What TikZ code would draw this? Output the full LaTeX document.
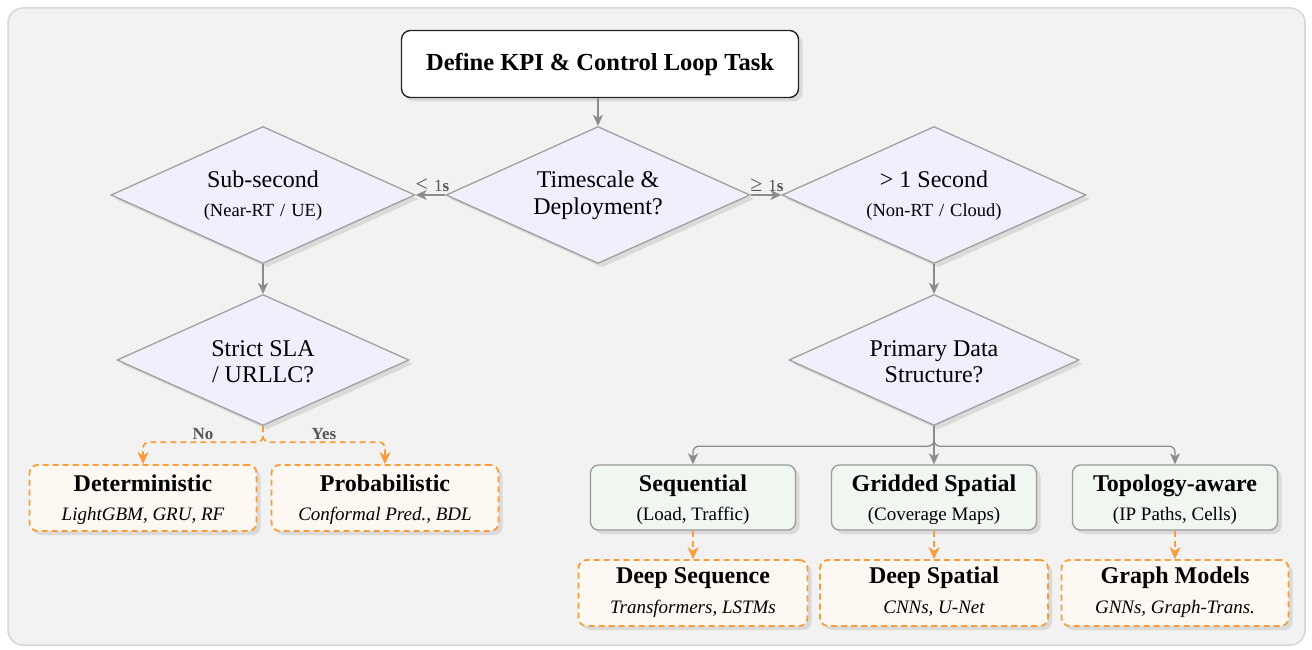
\documentclass[tikz,border=0pt]{standalone}
\usepackage{fontspec}
\setmainfont{Liberation Serif}
\usetikzlibrary{shapes.geometric,arrows.meta,shadows}
\definecolor{bgc}{HTML}{F2F2F2}
\definecolor{bgb}{HTML}{D6D6D6}
\definecolor{decfill}{HTML}{F0F0FC}
\definecolor{decdraw}{HTML}{A0A0A0}
\definecolor{grfill}{HTML}{F0F7F0}
\definecolor{grdraw}{HTML}{9A9A9A}
\definecolor{crfill}{HTML}{FDF8F1}
\definecolor{orng}{HTML}{F99D3A}
\definecolor{shad}{HTML}{DADADA}
\definecolor{edg}{HTML}{8C8C8C}
\definecolor{labc}{HTML}{555555}
\newcommand{\widesp}{\spaceskip=6pt\relax}
\tikzset{
  shd/.style={drop shadow={shadow xshift=4pt,shadow yshift=-4pt,fill=shad,opacity=1}},
  topbox/.style={shd,draw=black!85,line width=1.4pt,fill=white,rounded corners=9pt,
    minimum width=397pt,minimum height=67pt,inner sep=0pt,
    font=\fontsize{24.5}{28}\selectfont\bfseries},
  dec/.style={shd,diamond,draw=decdraw,line width=1.3pt,fill=decfill,
    minimum width=304pt,minimum height=137pt,inner sep=0pt},
  catbox/.style={shd,draw=grdraw,line width=1.3pt,fill=grfill,rounded corners=8pt,
    minimum width=205pt,minimum height=65pt,inner sep=0pt},
  modbox/.style={shd,draw=orng,line width=1.8pt,dash pattern=on 6pt off 4pt,fill=crfill,rounded corners=8pt,
    minimum height=66pt,inner sep=0pt},
  txt/.style={anchor=base,inner sep=0pt},
  dmain/.style={txt,font=\fontsize{24}{27}\selectfont},
  dsub/.style={txt,font=\fontsize{18.5}{22}\selectfont\widesp},
  btitle/.style={txt,font=\fontsize{24}{28}\selectfont\bfseries},
  bsubi/.style={txt,font=\fontsize{19}{22}\selectfont\itshape},
  bsubn/.style={txt,font=\fontsize{19}{22}\selectfont},
  garrow/.style={draw=edg,line width=1.3pt,-{Stealth[length=11pt,width=10pt,inset=3pt]}},
  oarrow/.style={draw=orng,line width=1.8pt,dash pattern=on 6pt off 4pt,-{Stealth[length=12pt,width=11pt,inset=3.5pt]}},
  lab/.style={text=labc,font=\fontsize{17}{20}\selectfont\bfseries,inner sep=2pt},
  tlab/.style={text=labc,font=\fontsize{17}{20}\selectfont,inner sep=0pt,anchor=base},
}
\newcommand{\bigrel}[1]{{\fontsize{22}{24}\selectfont #1}}
\begin{document}
\begin{tikzpicture}[x=1pt,y=-1pt]
\useasboundingbox (0,0) rectangle (1312,650);
\draw[rounded corners=15pt,fill=bgc,draw=bgb,line width=1.5pt] (8,8) rectangle (1305,645);

\node[topbox] (kpi) at (600,64) {Define KPI \& Control Loop Task};

% decision diamonds
\node[dec] (ts) at (598,195) {};
\node[dmain] (ts-a) at (598,187.3) {Timescale \&};
\node[dmain] (ts-b) at (598,214) {Deployment?};

\node[dec] (sub) at (263,195) {};
\node[dmain] (sub-a) at (263,187.3) {Sub-second};
\node[dsub] (sub-b) at (263,216.7) {(Near-RT / UE)};

\node[dec] (gt) at (934,195) {};
\node[dmain] (gt-a) at (934,187.3) {> 1 Second};
\node[dsub] (gt-b) at (934,216.7) {(Non-RT / Cloud)};

\node[dec,minimum width=292pt,minimum height=131pt] (sla) at (263,360) {};
\node[dmain] (sla-a) at (263,356) {Strict SLA};
\node[dmain] (sla-b) at (263,382.7) {/ URLLC?};

\node[dec,minimum width=290pt,minimum height=131pt] (pds) at (934,360) {};
\node[dmain] (pds-a) at (934,356) {Primary Data};
\node[dmain] (pds-b) at (934,382.7) {Structure?};

% model family boxes (left)
\node[modbox,minimum width=227pt] (det) at (143,498) {};
\node[btitle] (det-a) at (143,491) {Deterministic};
\node[bsubi] (det-b) at (143,520) {LightGBM, GRU, RF};
\node[modbox,minimum width=227pt] (prob) at (385,498) {};
\node[btitle] (prob-a) at (385,491) {Probabilistic};
\node[bsubi] (prob-b) at (385,520) {Conformal Pred., BDL};

% data structure boxes
\node[catbox] (seq) at (693,497.5) {};
\node[btitle] (seq-a) at (693,491) {Sequential};
\node[bsubn] (seq-b) at (693,520) {(Load, Traffic)};
\node[catbox] (grid) at (934,497.5) {};
\node[btitle] (grid-a) at (934,491) {Gridded Spatial};
\node[bsubn] (grid-b) at (934,520) {(Coverage Maps)};
\node[catbox] (topo) at (1175,497.5) {};
\node[btitle] (topo-a) at (1175,491) {Topology-aware};
\node[bsubn] (topo-b) at (1175,520) {(IP Paths, Cells)};

% model boxes (bottom)
\node[modbox,minimum width=229pt] (dseq) at (693,593) {};
\node[btitle] (dseq-a) at (693,583.5) {Deep Sequence};
\node[bsubi] (dseq-b) at (693,613) {Transformers, LSTMs};
\node[modbox,minimum width=228pt] (dspa) at (934,593) {};
\node[btitle] (dspa-a) at (934,583.5) {Deep Spatial};
\node[bsubi] (dspa-b) at (934,613) {CNNs, U-Net};
\node[modbox,minimum width=227pt] (gm) at (1175,593) {};
\node[btitle] (gm-a) at (1175,583.5) {Graph Models};
\node[bsubi] (gm-b) at (1175,613) {GNNs, Graph-Trans.};

% connectors
\draw[garrow] (kpi.south -| ts.north) -- (ts.north);
\draw[garrow] (ts.west) -- (sub.east);
\node[tlab] (l1) at (432.5,191.5) {\bigrel{<}\hspace{6pt}1\textbf{s}};
\draw[garrow] (ts.east) -- (gt.west);
\node[tlab] (l2) at (767,191.5) {\bigrel{≥}\hspace{6pt}1\textbf{s}};
\draw[garrow] (sub.south) -- (sla.north);
\draw[garrow] (gt.south) -- (pds.north);

\draw[oarrow,rounded corners=6pt] (sla.south) -- ++(0,16) -| node[lab,pos=0.25,above]{No} (det.north);
\draw[oarrow,rounded corners=6pt] (sla.south) -- ++(0,16) -| node[lab,pos=0.25,above]{Yes} (prob.north);

\draw[garrow,rounded corners=6pt] (pds.south) -- ++(0,20) -| (seq.north);
\draw[garrow] (pds.south) -- (grid.north);
\draw[garrow,rounded corners=6pt] (pds.south) -- ++(0,20) -| (topo.north);

\draw[oarrow] (seq.south) -- (dseq.north);
\draw[oarrow] (grid.south) -- (dspa.north);
\draw[oarrow] (topo.south) -- (gm.north);
\end{tikzpicture}
\end{document}
